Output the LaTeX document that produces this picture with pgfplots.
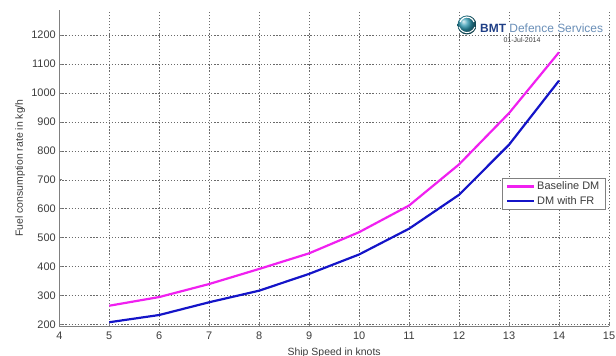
\documentclass[border=0pt]{standalone}
\usepackage{pgfplots}
\pgfplotsset{compat=1.18}
\usepackage{fontspec}
\setmainfont{Liberation Sans}
\definecolor{tickgray}{HTML}{3C3C3C}
\definecolor{spine}{HTML}{808080}
\definecolor{gridc}{HTML}{6A6A6A}
\definecolor{magc}{HTML}{F020F0}
\definecolor{bluec}{HTML}{1414C8}
\definecolor{bmtnavy}{HTML}{1F3F86}
\definecolor{bmtlight}{HTML}{6A8FB8}
\definecolor{bmtteal}{HTML}{2A95AE}
\begin{document}
\begin{tikzpicture}
\begin{axis}[
  name=ax,
  scale only axis,
  width=549.7bp, height=316bp,
  xmin=4, xmax=15, ymin=195, ymax=1286,
  xtick={4,...,15}, ytick={200,300,...,1200},
  axis x line=bottom, axis y line=left,
  axis line style={spine, line width=0.8pt, -},
  tick style={spine, line width=0.5pt},
  tick align=inside, major tick length=3bp,
  grid=major,
  major grid style={gridc, line width=0.45pt, dash pattern=on 1.3bp off 1.8bp},
  ticklabel style={font=\fontsize{11}{13}\selectfont, text=tickgray},
  xticklabel style={yshift=-2bp},
  /pgf/number format/assume math mode=true,
  /pgf/number format/set thousands separator={},
  xlabel={Ship Speed in knots},
  ylabel={Fuel consumption rate in kg/h},
  label style={font=\fontsize{10.5}{12}\selectfont, text=tickgray},
  xlabel style={at={(axis description cs:0.5,0)}, anchor=base, yshift=-29bp},
  ylabel style={at={(axis description cs:-0.071,0.5)}, anchor=center},
  legend style={at={(rel axis cs:0.805,0.468)}, anchor=north west, draw=spine, fill=white,
    font=\fontsize{11}{13}\selectfont, text=tickgray, inner xsep=4bp, inner ysep=1.5bp,
    row sep=1bp},
  legend cell align=left,
  legend image code/.code={\draw[#1] (0bp,0bp) -- (27bp,0bp);},
]
\addplot[magc, line width=2.2pt] coordinates {
(5,265)(6,295)(7,340)(8,392)(9,446)(10,519)(11,611)(12,753)(13,930)(14,1140)};
\addlegendentry{Baseline DM}
\addplot[bluec, line width=2.2pt] coordinates {
(5,208)(6,233)(7,277)(8,317)(9,375)(10,442)(11,531)(12,648)(13,821)(14,1042)};
\addlegendentry{DM with FR}
\end{axis}
% logo
\begin{scope}[shift={([xshift=407.7bp,yshift=301bp]ax.south west)}]
  \shade[ball color=bmtteal] (0,0) circle (9.5bp);
  \draw[white, line width=1.2pt] (-7bp,3bp) arc (160:20:7.5bp);
  \draw[white, line width=1.0pt] (-8bp,-2bp) arc (200:340:8.5bp);
\end{scope}
\node[anchor=west, inner sep=0pt, fill=white, font=\fontsize{12}{14}\selectfont] at ([xshift=420.7bp,yshift=298bp]ax.south west)
  {\textcolor{bmtnavy}{\textbf{BMT}} \textcolor{bmtlight}{Defence Services}};
\node[inner sep=0pt, font=\fontsize{7}{8}\selectfont, text=tickgray] at ([xshift=462.7bp,yshift=286bp]ax.south west) {01-Jul-2014};
\pgfresetboundingbox
\path ([xshift=-59.3bp,yshift=-30bp]ax.south west) rectangle ([xshift=7bp,yshift=10bp]ax.north east);
\end{tikzpicture}
\end{document}
